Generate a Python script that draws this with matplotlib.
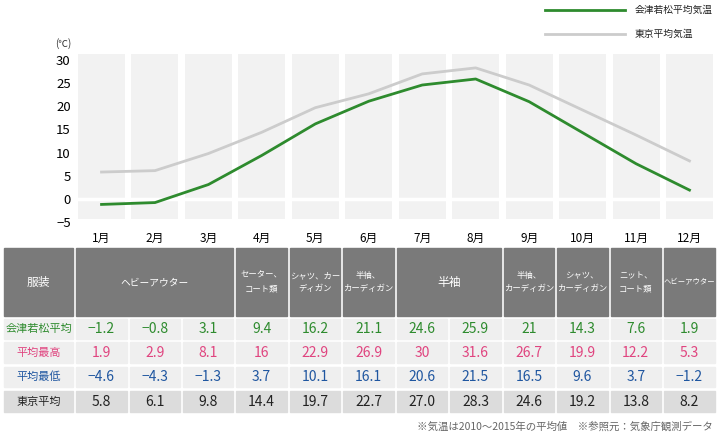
import matplotlib
matplotlib.use("Agg")
import matplotlib.pyplot as plt
from matplotlib.patches import Rectangle

plt.rcParams['font.family'] = ['Noto Sans CJK JP', 'DejaVu Sans']

# data
months = ["1月", "2月", "3月", "4月", "5月", "6月", "7月", "8月", "9月", "10月", "11月", "12月"]
aizu_avg = [-1.2, -0.8, 3.1, 9.4, 16.2, 21.1, 24.6, 25.9, 21, 14.3, 7.6, 1.9]
aizu_max = [1.9, 2.9, 8.1, 16, 22.9, 26.9, 30, 31.6, 26.7, 19.9, 12.2, 5.3]
aizu_min = [-4.6, -4.3, -1.3, 3.7, 10.1, 16.1, 20.6, 21.5, 16.5, 9.6, 3.7, -1.2]
tokyo_avg = [5.8, 6.1, 9.8, 14.4, 19.7, 22.7, 27.0, 28.3, 24.6, 19.2, 13.8, 8.2]
tokyo_labels = ["5.8", "6.1", "9.8", "14.4", "19.7", "22.7", "27.0", "28.3", "24.6", "19.2", "13.8", "8.2"]
clothes = ["ヘビーアウター", "セーター、\nコート類", "シャツ、カー\nディガン", "半袖、\nカーディガン",
           "半袖", "半袖、\nカーディガン", "シャツ、\nカーディガン", "ニット、\nコート類", "ヘビーアウター"]
clothes_span = [3, 1, 1, 1, 2, 1, 1, 1, 1]
yticks = [-5, 0, 5, 10, 15, 20, 25, 30]

GREEN = "#2e8b2e"
PINK = "#e0447f"
BLUE = "#1f56a0"
GRAY_LINE = "#cccccc"

fig = plt.figure(figsize=(7.2, 4.36), dpi=100)

# chart axes, placed in pixel terms
W, H = 720, 436
x0, x1 = 74.8, 716.2
ytop, ybot = 54, 224.8
ax = fig.add_axes([x0 / W, 1 - ybot / H, (x1 - x0) / W, (ybot - ytop) / H])
xs = list(range(1, 13))
ax.bar(xs, [31.3 + 4.35] * 12, bottom=-4.35, width=0.88, color="#f2f2f2", zorder=0)
ax.axhline(0, color="white", lw=2.5, zorder=1)
ax.plot(xs, tokyo_avg, color=GRAY_LINE, lw=2, zorder=2)
ax.plot(xs, aizu_avg, color=GREEN, lw=2, zorder=3)
ax.set_xlim(0.5, 12.5)
ax.set_ylim(-5.6, 31.3)
ax.set_yticks(yticks)
ax.set_xticks(xs)
ax.set_xticklabels(months, fontsize=8.5)
ax.tick_params(axis='y', length=0, pad=3, labelsize=9.5)
ax.tick_params(axis='x', length=0, pad=5)
for s in ax.spines.values():
    s.set_visible(False)

# overlay in pixel coordinates for table, legend, notes
ov = fig.add_axes([0, 0, 1, 1])
ov.set_xlim(0, W)
ov.set_ylim(H, 0)
ov.axis('off')

ov.text(63, 44, "(℃)", fontsize=7, ha='center', va='center', color="#333333")

# legend
ov.plot([545, 625], [10, 10], color=GREEN, lw=2)
ov.text(635, 10, "会津若松平均気温", fontsize=7, va='center', color="#222222")
ov.plot([545, 625], [34, 34], color=GRAY_LINE, lw=2)
ov.text(635, 34, "東京平均気温", fontsize=7, va='center', color="#222222")

# table geometry
def col_center(i):
    return 101.3 + i * 53.45

cw = 50.5
lab_l, lab_r = 4, 73
rows_y = [(248, 316), (319, 339), (342, 363), (367, 387), (391, 412)]

# header row
hy0, hy1 = rows_y[0]
ov.add_patch(Rectangle((lab_l, hy0), lab_r - lab_l, hy1 - hy0, color="#7a7a7a"))
ov.text((lab_l + lab_r) / 2, (hy0 + hy1) / 2, "服装", color="white", fontsize=8.5,
        ha='center', va='center')
start = 0
for label, span in zip(clothes, clothes_span):
    left = col_center(start) - cw / 2
    right = col_center(start + span - 1) + cw / 2
    ov.add_patch(Rectangle((left, hy0), right - left, hy1 - hy0, color="#7a7a7a"))
    if label == "半袖":
        fs = 8.5
    elif span > 1:
        fs = 7
    elif "\n" in label:
        fs = 6
    else:
        fs = 5.3
    ov.text((left + right) / 2, (hy0 + hy1) / 2, label, color="white", fontsize=fs,
            ha='center', va='center', linespacing=1.6)
    start += span

# data rows
row_names = ["会津若松平均", "平均最高", "平均最低", "東京平均"]
row_colors = [GREEN, PINK, BLUE, "#222222"]
row_bg = ["#efefef", "#efefef", "#efefef", "#dcdcdc"]
row_vals = [[str(v).replace("-", "−") for v in aizu_avg],
            [str(v) for v in aizu_max],
            [str(v).replace("-", "−") for v in aizu_min],
            tokyo_labels]

for r in range(4):
    y0, y1 = rows_y[r + 1]
    yc = (y0 + y1) / 2
    ov.add_patch(Rectangle((lab_l, y0), lab_r - lab_l, y1 - y0, color=row_bg[r]))
    ov.text((lab_l + lab_r) / 2, yc, row_names[r], color=row_colors[r], fontsize=8,
            ha='center', va='center')
    for i in range(12):
        c = col_center(i)
        ov.add_patch(Rectangle((c - cw / 2, y0), cw, y1 - y0, color=row_bg[r]))
        ov.text(c, yc, row_vals[r][i], color=row_colors[r], fontsize=10,
                ha='center', va='center')

ov.text(713, 427, "※気温は2010～2015年の平均値　※参照元：気象庁観測データ", fontsize=7.5,
        ha='right', va='center', color="#666666")

fig.savefig("out.png", dpi=100)
